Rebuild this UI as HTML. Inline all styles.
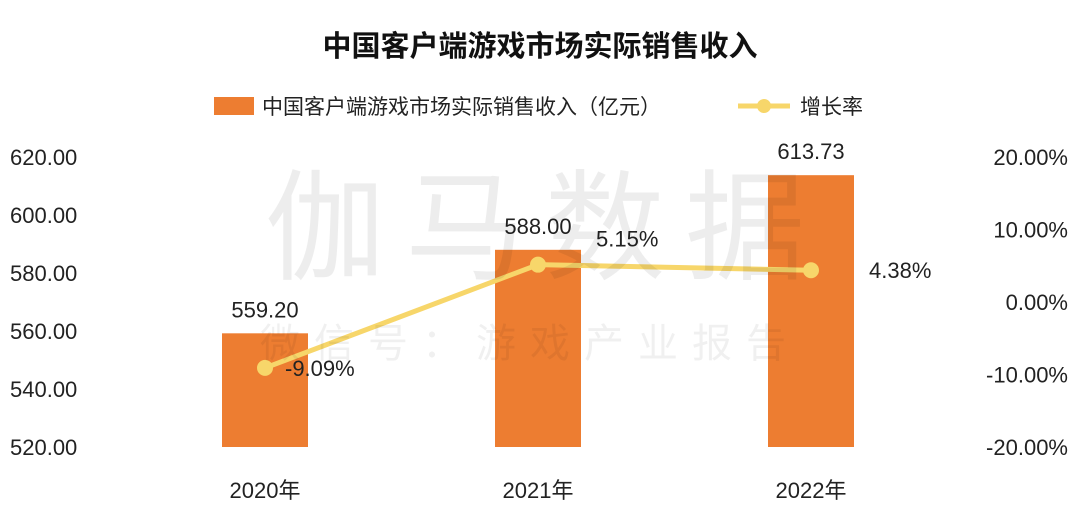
<!DOCTYPE html>
<html><head><meta charset="utf-8"><style>
body{margin:0;background:#fff;width:1080px;height:520px;overflow:hidden;font-family:"Liberation Sans","Noto Sans CJK SC",sans-serif}
</style></head><body>
<svg id="chart" width="1080" height="520" xmlns="http://www.w3.org/2000/svg" font-family="Liberation Sans, Noto Sans CJK SC, sans-serif">
<text x="540" y="56" font-size="29" font-weight="bold" fill="#111" text-anchor="middle">中国客户端游戏市场实际销售收入</text>
<g>
<rect x="214" y="97" width="40" height="18" fill="#ED7D31"/>
<text x="262" y="114" font-size="21" fill="#222">中国客户端游戏市场实际销售收入（亿元）</text>
<line x1="738" y1="106" x2="790" y2="106" stroke="#F7D66A" stroke-width="5"/>
<circle cx="764" cy="106" r="7" fill="#F7D66A"/>
<text x="800" y="114" font-size="21" fill="#222">增长率</text>
</g>
<g id="g"></g>
<text x="545" y="270" font-size="120" fill="#000" fill-opacity="0.07" text-anchor="middle" letter-spacing="20">伽马数据</text>
<text x="530" y="357" font-size="40" fill="#000" fill-opacity="0.06" text-anchor="middle" letter-spacing="14">微信号：游戏产业报告</text>
</svg>
<script>
const categories=["2020年","2021年","2022年"];
const revenue=[559.20,588.00,613.73];
const growth=[-9.09,5.15,4.38];
const leftTicks=[520,540,560,580,600,620];
const rightTicks=[-20,-10,0,10,20];
const NS="http://www.w3.org/2000/svg";
const g=document.getElementById('g');
function yL(v){return 447-(v-520)*(447-157)/100;}
function yR(v){return 302-v*(302-157)/20;}
function xC(i){return 265+i*273;}
function mk(t,a,txt){const e=document.createElementNS(NS,t);for(const k in a)e.setAttribute(k,a[k]);if(txt!==undefined)e.textContent=txt;g.appendChild(e);return e;}
leftTicks.forEach(v=>{const e=mk('text',{x:10,y:yL(v)+8,'font-size':22,fill:'#222'},v.toFixed(2));

});
rightTicks.forEach(v=>{const e=mk('text',{x:1068,y:yR(v)+8,'font-size':22,fill:'#222','text-anchor':'end'},v.toFixed(2)+'%');

});
categories.forEach((c,i)=>{
const y=yL(revenue[i]);
const b=mk('rect',{x:xC(i)-43,y:y,width:86,height:yL(520)-y,fill:'#ED7D31'});


const l=mk('text',{x:xC(i),y:y-16,'font-size':22,fill:'#222','text-anchor':'middle'},revenue[i].toFixed(2));


const cl=mk('text',{x:xC(i),y:498,'font-size':22,fill:'#222','text-anchor':'middle'},c);


});
const pts=growth.map((v,i)=>xC(i)+','+yR(v)).join(' ');
const pl=mk('polyline',{points:pts,fill:'none',stroke:'#F7D66A','stroke-width':5,'stroke-linejoin':'round'});


const lblDx=[20,58,58], lblDy=[8,-18,8];
growth.forEach((v,i)=>{
const c=mk('circle',{cx:xC(i),cy:yR(v),r:8,fill:'#F7D66A'});


const t=mk('text',{x:xC(i)+lblDx[i],y:yR(v)+lblDy[i],'font-size':22,fill:'#222'},v.toFixed(2)+'%');


});
</script>
</body></html>
